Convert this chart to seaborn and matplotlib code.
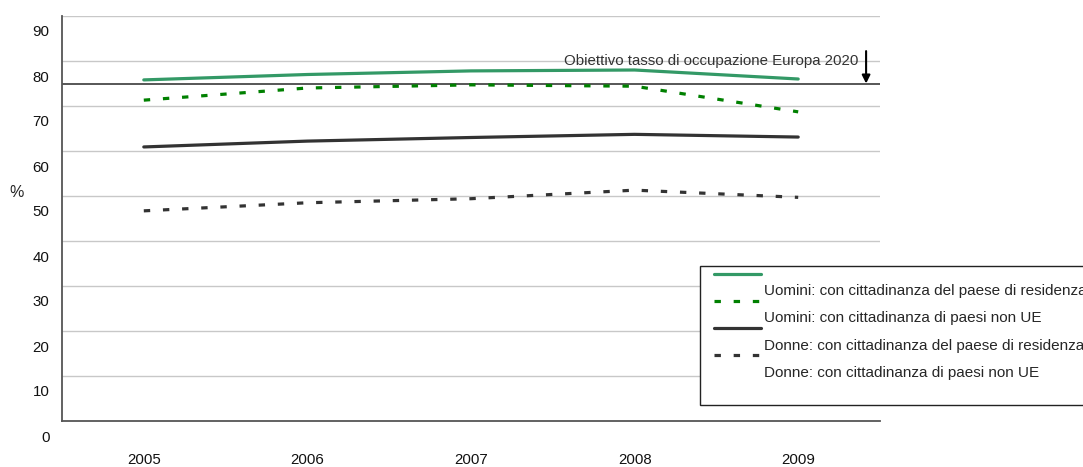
import numpy as np
import pandas as pd
import matplotlib
matplotlib.use("Agg")
import matplotlib.pyplot as plt
import matplotlib.transforms as mtransforms
from matplotlib.lines import Line2D
import seaborn as sns

# Tassi di occupazione (%) per sesso e cittadinanza
anni = ["2005", "2006", "2007", "2008", "2009"]
serie = [
    "Uomini: con cittadinanza del paese di residenza",
    "Uomini: con cittadinanza di paesi non UE",
    "Donne: con cittadinanza del paese di residenza",
    "Donne: con cittadinanza di paesi non UE",
]
uomini_residenza = [75.8, 77.0, 77.8, 78.0, 76.0]
uomini_non_ue = [71.3, 74.0, 74.7, 74.4, 68.7]
donne_residenza = [60.9, 62.2, 63.0, 63.7, 63.1]
donne_non_ue = [46.7, 48.5, 49.4, 51.3, 49.7]
obiettivo_2020 = 75
y_ticks = list(range(0, 100, 10))

valori = [uomini_residenza, uomini_non_ue, donne_residenza, donne_non_ue]
df = pd.DataFrame(
    [(s, i, v) for s, vals in zip(serie, valori) for i, v in enumerate(vals)],
    columns=["serie", "pos", "valore"],
)

colori = dict(zip(serie, ["#339966", "#008000", "#333333", "#333333"]))
tratti = dict(zip(serie, ["", (2, 4), "", (2, 4)]))

sns.set_style("white")
plt.rcParams["font.family"] = ["Liberation Sans", "DejaVu Sans"]
plt.rcParams["font.size"] = 10.8

fig = plt.figure(figsize=(10.83, 4.67), dpi=100)
ax = fig.add_axes([62 / 1083, 46 / 467, 818 / 1083, 405 / 467])

ax.set_xlim(-0.5, len(anni) - 0.5)
ax.set_ylim(0, 90)

# griglia orizzontale
for t in y_ticks[1:]:
    ax.axhline(t, color="#c8c8c8", lw=1.0, zorder=0)
# linea obiettivo Europa 2020
ax.axhline(obiettivo_2020, color="#3a3a3a", lw=1.2, zorder=1)

sns.lineplot(
    data=df, x="pos", y="valore", hue="serie", style="serie",
    hue_order=serie, style_order=serie, palette=colori, dashes=tratti,
    linewidth=2.3, legend=False, ax=ax, zorder=3,
)
for ln in ax.lines:
    ln.set_dash_capstyle("butt")

# asse x a categorie: tacche sui confini, etichette al centro
ax.set_xticks(np.arange(-0.5, len(anni)))
ax.set_xticklabels([])
ax.set_xticks(range(len(anni)), minor=True)
ax.set_xticklabels(anni, minor=True)
ax.tick_params(axis="x", which="minor", length=0, pad=23, labelsize=10.8, colors="#111111")
ax.tick_params(axis="x", which="major", length=4, width=1, color="#555555", direction="out")

ax.set_yticks(y_ticks)
ax.set_yticklabels([str(t) for t in y_ticks])
ax.tick_params(axis="y", length=4, width=1, color="#555555", direction="out", pad=5,
               labelsize=10.8, labelcolor="#111111")
shift_y = mtransforms.ScaledTranslation(0, -0.15, fig.dpi_scale_trans)
for lab in ax.get_yticklabels():
    lab.set_transform(lab.get_transform() + shift_y)

ax.set_xlabel("")
ax.set_ylabel("%", rotation=0, fontsize=11.5)
ax.yaxis.set_label_coords(-0.055, 0.545)

for side in ["top", "right"]:
    ax.spines[side].set_visible(False)
for side in ["left", "bottom"]:
    ax.spines[side].set_color("#555555")
    ax.spines[side].set_linewidth(1.3)

# annotazione obiettivo
ax.annotate("", xy=(4.415, obiettivo_2020), xytext=(4.415, 82.2),
            arrowprops=dict(arrowstyle="-|>", color="black", lw=1.5,
                            mutation_scale=12, shrinkA=0, shrinkB=0),
            annotation_clip=False)
ax.text(4.366, 80.0, "Obiettivo tasso di occupazione Europa 2020",
        ha="right", va="center", fontsize=10.8, color="#333333")

# legenda
handles = list(ax.lines[-4:]) + [Line2D([], [], color="none")]
labels = serie + [" \n "]
leg = fig.legend(
    handles, labels, loc="upper left",
    bbox_to_anchor=(700 / 1083, 1 - 266 / 467), bbox_transform=fig.transFigure,
    frameon=True, fancybox=False, edgecolor="#222222", framealpha=1,
    handlelength=3.1, handletextpad=0.95, labelspacing=0.86,
    borderpad=0.15, borderaxespad=0, fontsize=11,
)
leg.get_texts()[-1].set_fontsize(8.5)
leg.get_frame().set_linewidth(1.0)
shift_h = mtransforms.ScaledTranslation(0.115, 0, fig.dpi_scale_trans)
for h in leg.legend_handles:
    h.set_transform(h.get_transform() + shift_h)
shift_t = mtransforms.ScaledTranslation(0, -0.16, fig.dpi_scale_trans)
for t in leg.get_texts():
    t.set_transform(t.get_transform() + shift_t)

fig.savefig("out.png", dpi=100)
